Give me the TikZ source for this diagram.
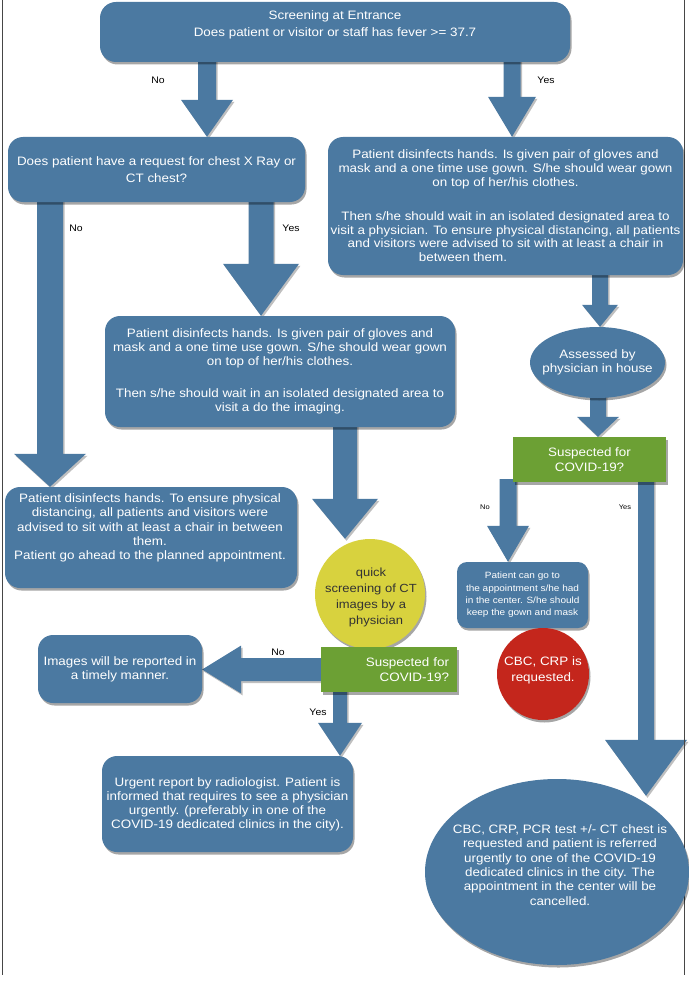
\documentclass[tikz,border=0pt]{standalone}
\usepackage{fontspec}
\setmainfont{Liberation Sans}[FakeStretch=1.1]
\usetikzlibrary{calc,shapes.geometric,shadows}
\definecolor{boxblue}{RGB}{75,121,161}
\definecolor{boxgreen}{RGB}{108,160,52}
\definecolor{boxyellow}{RGB}{216,210,62}
\definecolor{boxred}{RGB}{196,38,28}
\definecolor{edgegray}{RGB}{70,70,70}
\pgfdeclarelayer{bg}
\pgfsetlayers{bg,main}
\newcommand\fsz[2]{\fontsize{#1}{#2}\selectfont}
% vertical block arrow: start, end, shaft width, head width, head length
\newcommand\blkdown[5]{%
  \fill[boxblue,arrshad] let \p1=#1, \p2=#2 in
    (\x1-#3/2,\y1+3pt) -- (\x1+#3/2,\y1+3pt) -- (\x1+#3/2,\y2+#5) -- (\x1+#4/2,\y2+#5)
    -- (\x1,\y2) -- (\x1-#4/2,\y2+#5) -- (\x1-#3/2,\y2+#5) -- cycle;}
% horizontal (leftward) block arrow
\newcommand\blkleft[5]{%
  \fill[boxblue,arrshad] let \p1=#1, \p2=#2 in
    (\x1+3pt,\y1+#3/2) -- (\x2+#5,\y1+#3/2) -- (\x2+#5,\y1+#4/2) -- (\x2,\y1)
    -- (\x2+#5,\y1-#4/2) -- (\x2+#5,\y1-#3/2) -- (\x1+3pt,\y1-#3/2) -- cycle;}
\tikzset{
  shad/.style={drop shadow={shadow xshift=1.5pt,shadow yshift=-2.5pt,opacity=0.35,fill=black}},
  arrshad/.style={drop shadow={shadow xshift=1.5pt,shadow yshift=-2pt,opacity=0.25,fill=black}},
  wh/.style 2 args={minimum width=#1pt,minimum height=#2pt},
  bbox/.style={shape=rectangle,rounded corners=15pt,fill=boxblue,text=white,align=center,inner sep=0pt,shad,font=\fsz{12.2}{13.8}},
  gbox/.style={shape=rectangle,fill=boxgreen,text=white,align=center,inner sep=0pt,shad,font=\fsz{12.2}{14.5}},
  oval/.style={shape=ellipse,fill=boxblue,inner sep=0pt,shad},
  txt/.style={inner sep=0pt,align=center,text=white,font=\fsz{12.2}{13.8}},
  lbl/.style={inner sep=0pt,font=\fsz{9.5}{11},text=black},
  slbl/.style={inner sep=0pt,font=\fsz{6.8}{8},text=black},
}
\begin{document}
\begin{tikzpicture}[x=1pt,y=-1pt]
\useasboundingbox (0,0) rectangle (688,987);
\begin{pgfonlayer}{bg}
\fill[white] (0,0) rectangle (688,987);
\end{pgfonlayer}
\draw[edgegray,line width=1pt] (2,0) -- (2,975);
\draw[edgegray,line width=1pt] (684,0) -- (684,975);

% ---------- nodes ----------
\node[bbox,wh={470}{60},rounded corners=16pt] (top) at (335,32) {};
\node[txt,font=\fsz{12.2}{17}] (toptxt) at (335,25) {Screening at Entrance\\Does patient or visitor or staff has fever >= 37.7};

\node[bbox,wh={297}{65},font=\fsz{12.2}{17}] (dec) at (156.5,169.5) {Does patient have a request for chest X Ray or\\CT chest?};

\node[bbox,wh={355}{138}] (rbox) at (505.5,206) {Patient disinfects hands. Is given pair of gloves and\\mask and a one time use gown. S/he should wear gown\\on top of her/his clothes.\\[20pt]Then s/he should wait in an isolated designated area to\\visit a physician. To ensure physical distancing, all patients\\and visitors were advised to sit with at least a chair in\\between them.\hspace*{85pt}};

\node[oval,wh={135}{71}] (ell1) at (597.5,362.5) {};
\node[txt] (ell1txt) at (597.5,362) {Assessed by\\physician in house};

\node[gbox,wh={153}{45}] (grn1) at (589.5,459.5) {Suspected for\\COVID-19?};

\node[bbox,wh={131}{66},rounded corners=10pt,font=\fsz{9.1}{12.3}] (small) at (522.5,595) {Patient can go to\\the appointment s/he had\\in the center. S/he should\\keep the gown and mask};

\node[circle,fill=boxred,minimum size=92pt,inner sep=0pt,shad] (red) at (543,674) {};
\node[txt,font=\fsz{12.2}{16}] (redtxt) at (543,670) {CBC, CRP is\\requested.};

\node[oval,wh={264}{186}] (bigell) at (557,872) {};
\node[txt,font=\fsz{12.2}{14.3}] (bigtxt) at (560,865) {CBC, CRP, PCR test +/- CT chest is\\requested and patient is referred\\urgently to one of the COVID-19\\dedicated clinics in the city. The\\appointment in the center will be\\cancelled.};

\node[bbox,wh={350}{111}] (mid) at (280,371.5) {Patient disinfects hands. Is given pair of gloves and\\mask and a one time use gown. S/he should wear gown\\on top of her/his clothes.\\[19pt]Then s/he should wait in an isolated designated area to\\visit a do the imaging.};

\node[bbox,wh={292}{101}] (left) at (151,537.5) {};
\node[txt,font=\fsz{12.2}{14.2}] (lefttxt) at (150,528) {Patient disinfects hands. To ensure physical\\distancing, all patients and visitors were\\advised to sit with at least a chair in between\\them.\\Patient go ahead to the planned appointment.};

\node[circle,fill=boxyellow,minimum size=110pt,inner sep=0pt,shad] (yel) at (370,594) {};
\node[txt,text=black!80,font=\fsz{11.8}{16}] (yeltxt) at (371,597) {quick\\screening of CT\\images by a\\\hspace*{10pt}physician};

\node[gbox,wh={136}{45},align=right,text width=120pt] (grn2) at (389,669.5) {Suspected for\\COVID-19?};

\node[bbox,wh={164}{68}] (img) at (120,669) {Images will be reported in\\a timely manner.};

\node[bbox,wh={251}{96},font=\fsz{12.2}{14}] (urg) at (227.5,804) {Urgent report by radiologist. Patient is\\informed that requires to see a physician\\urgently. (preferably in one of the\\COVID-19 dedicated clinics in the city).};

% ---------- labels ----------
\node[lbl] (no1) at (158,80) {No};
\node[lbl] (yes1) at (546,80) {Yes};
\node[lbl] (no2) at (76,228) {No};
\node[lbl] (yes2) at (291,228) {Yes};
\node[slbl] (no3) at (485,507) {No};
\node[slbl] (yes3) at (625,507) {Yes};
\node[lbl] (no4) at (278,652) {No};
\node[lbl] (yes4) at (318,712) {Yes};

% ---------- connectors ----------
\coordinate (xa) at (207,0);
\coordinate (xb) at (512,0);
\coordinate (xc) at (50,0);
\coordinate (xd) at (261,0);
\coordinate (xe) at (600,0);
\coordinate (xf) at (598,0);
\coordinate (xg) at (508,0);
\coordinate (xh) at (646,0);
\coordinate (xi) at (345,0);
\coordinate (xj) at (340,0);
\begin{pgfonlayer}{bg}
\blkdown{(top.south -| xa)}{(dec.north -| xa)}{18pt}{52pt}{37pt}
\blkdown{(top.south -| xb)}{(rbox.north -| xb)}{17pt}{48pt}{40pt}
\blkdown{(dec.south -| xc)}{(left.north -| xc)}{26pt}{72pt}{33pt}
\blkdown{(dec.south -| xd)}{(mid.north -| xd)}{25pt}{76pt}{52pt}
\blkdown{(rbox.south -| xe)}{(ell1.north -| xe)}{16pt}{36pt}{22pt}
\blkdown{(ell1.south -| xf)}{(grn1.north -| xf)}{16pt}{42pt}{20pt}
\blkdown{(grn1.south -| xg)}{(small.north -| xg)}{17pt}{42pt}{36pt}
\blkdown{(grn1.south -| xh)}{(bigell.45)}{16pt}{82pt}{56pt}
\blkdown{(mid.south -| xi)}{(yel.north -| xi)}{24pt}{66pt}{40pt}
\blkdown{(grn2.south -| xj)}{(urg.north -| xj)}{14pt}{44pt}{33pt}
\blkleft{(grn2.west)}{(img.east)}{23pt}{48pt}{39pt}
\end{pgfonlayer}
\end{tikzpicture}
\end{document}
